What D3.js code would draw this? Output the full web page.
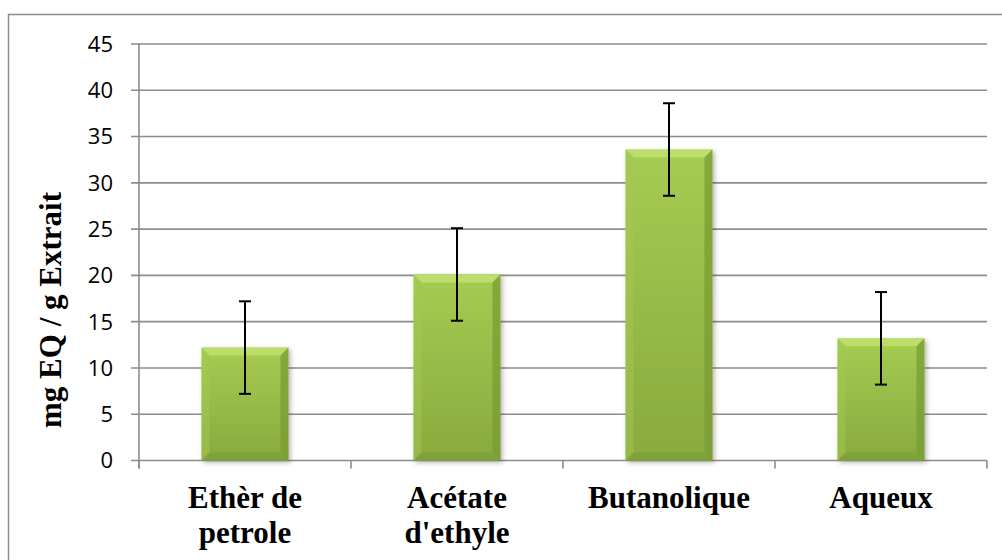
<!DOCTYPE html>
<html>
<head>
<meta charset="utf-8">
<script src="https://cdn.jsdelivr.net/npm/d3@7"></script>
<style>
html,body{margin:0;padding:0;background:#fff;}
svg{display:block;}
.serif{font-family:"Liberation Serif","DejaVu Serif",serif;font-weight:bold;}
</style>
</head>
<body>
<svg id="chart" width="1002" height="560"></svg>
<script>
const categories = [["Ethèr de","petrole"],["Acétate","d'ethyle"],["Butanolique"],["Aqueux"]];
const values = [12.2, 20.1, 33.6, 13.2];
const errors = [5, 5, 5, 5];
const yTicks = [0,5,10,15,20,25,30,35,40,45];
const yLabel = "mg EQ / g Extrait";

const svg = d3.select("#chart");
const plotLeft = 139, plotRight = 987, plotTop = 44, plotBottom = 460.5;

const x = d3.scaleBand().domain(d3.range(categories.length)).range([plotLeft, plotRight]).paddingInner(0.59).paddingOuter(0.295);
const y = d3.scaleLinear().domain([0,45]).range([plotBottom, plotTop]);

const defs = svg.append("defs");
const g1 = defs.append("linearGradient").attr("id","face").attr("x1",0).attr("y1",0).attr("x2",0).attr("y2",1);
g1.append("stop").attr("offset","0%").attr("stop-color","#a6cc52");
g1.append("stop").attr("offset","100%").attr("stop-color","#88aa3f");
const f = defs.append("filter").attr("id","shadow").attr("x","-20%").attr("y","-20%").attr("width","140%").attr("height","140%");
f.append("feDropShadow").attr("dx",2).attr("dy",2).attr("stdDeviation",2.5).attr("flood-color","#000").attr("flood-opacity",0.3);

// outer border
svg.append("rect").attr("x",8.5).attr("y",14.5).attr("width",1010).attr("height",600)
  .attr("fill","none").attr("stroke","#8c8c8c").attr("stroke-width",1.5);

// gridlines
svg.append("g").selectAll("line").data(yTicks).join("line")
  .attr("x1", plotLeft - 8).attr("x2", plotRight)
  .attr("y1", d => y(d)).attr("y2", d => y(d))
  .attr("stroke","#8c8c8c").attr("stroke-width",1.6);

// y axis line
svg.append("line").attr("x1",plotLeft).attr("x2",plotLeft).attr("y1",plotTop).attr("y2",plotBottom+8)
  .attr("stroke","#8c8c8c").attr("stroke-width",1.6);
// x ticks at boundaries
const bounds = d3.range(categories.length+1).map(i => plotLeft + i*x.step());
svg.append("g").selectAll("line").data(bounds).join("line")
  .attr("x1", d=>d).attr("x2", d=>d).attr("y1", plotBottom).attr("y2", plotBottom+8)
  .attr("stroke","#8c8c8c").attr("stroke-width",1.6);

// y tick labels
svg.append("g").selectAll("text").data(yTicks).join("text")
  .attr("x", 113).attr("y", d => y(d)).attr("dy","0.36em")
  .attr("text-anchor","end").style("font-family","'Open Sans', sans-serif").style("font-size","22px")
  .attr("fill","#000").text(d => d);

// bars
const bev = 8;
const bars = svg.append("g").selectAll("g").data(values).join("g");
bars.each(function(v,i){
  const gEl = d3.select(this);
  const x0 = x(i), w = x.bandwidth(), y0 = y(v), y1 = y(0);
  gEl.append("rect").attr("x",x0).attr("y",y0).attr("width",w).attr("height",y1-y0)
    .attr("fill","url(#face)").attr("filter","url(#shadow)");
  gEl.append("polygon").attr("points",[[x0,y0],[x0+w,y0],[x0+w-bev,y0+bev],[x0+bev,y0+bev]].join(" "))
    .attr("fill","#c0e270").attr("opacity",0.85);
  gEl.append("polygon").attr("points",[[x0,y0],[x0+bev,y0+bev],[x0+bev,y1-bev],[x0,y1]].join(" "))
    .attr("fill","#a3c850").attr("opacity",0.5);
  gEl.append("polygon").attr("points",[[x0+w,y0],[x0+w,y1],[x0+w-bev,y1-bev],[x0+w-bev,y0+bev]].join(" "))
    .attr("fill","#789a33").attr("opacity",0.7);
  gEl.append("polygon").attr("points",[[x0,y1],[x0+bev,y1-bev],[x0+w-bev,y1-bev],[x0+w,y1]].join(" "))
    .attr("fill","#7c9c38").attr("opacity",0.6);
});

// error bars
const eb = svg.append("g").attr("stroke","#000");
values.forEach((v,i)=>{
  const cx = x(i) + x.bandwidth()/2;
  eb.append("line").attr("x1",cx).attr("x2",cx).attr("y1",y(v+errors[i])).attr("y2",y(v-errors[i])).attr("stroke-width",2);
  [v+errors[i], v-errors[i]].forEach(t=>{
    eb.append("line").attr("x1",cx-6).attr("x2",cx+6).attr("y1",y(t)).attr("y2",y(t)).attr("stroke-width",2);
  });
});

// x labels
categories.forEach((lines,i)=>{
  const cx = x(i) + x.bandwidth()/2;
  lines.forEach((t,j)=>{
    svg.append("text").attr("class","serif").attr("x",cx).attr("y",508 + j*35)
      .style("font-size","31px").attr("text-anchor","middle").attr("fill","#000").text(t);
  });
});

// y label
svg.append("text").attr("class","serif").attr("transform","translate(61,310) rotate(-90)")
  .attr("text-anchor","middle").style("font-size","31px").attr("fill","#000").text(yLabel);
</script>
</body>
</html>
